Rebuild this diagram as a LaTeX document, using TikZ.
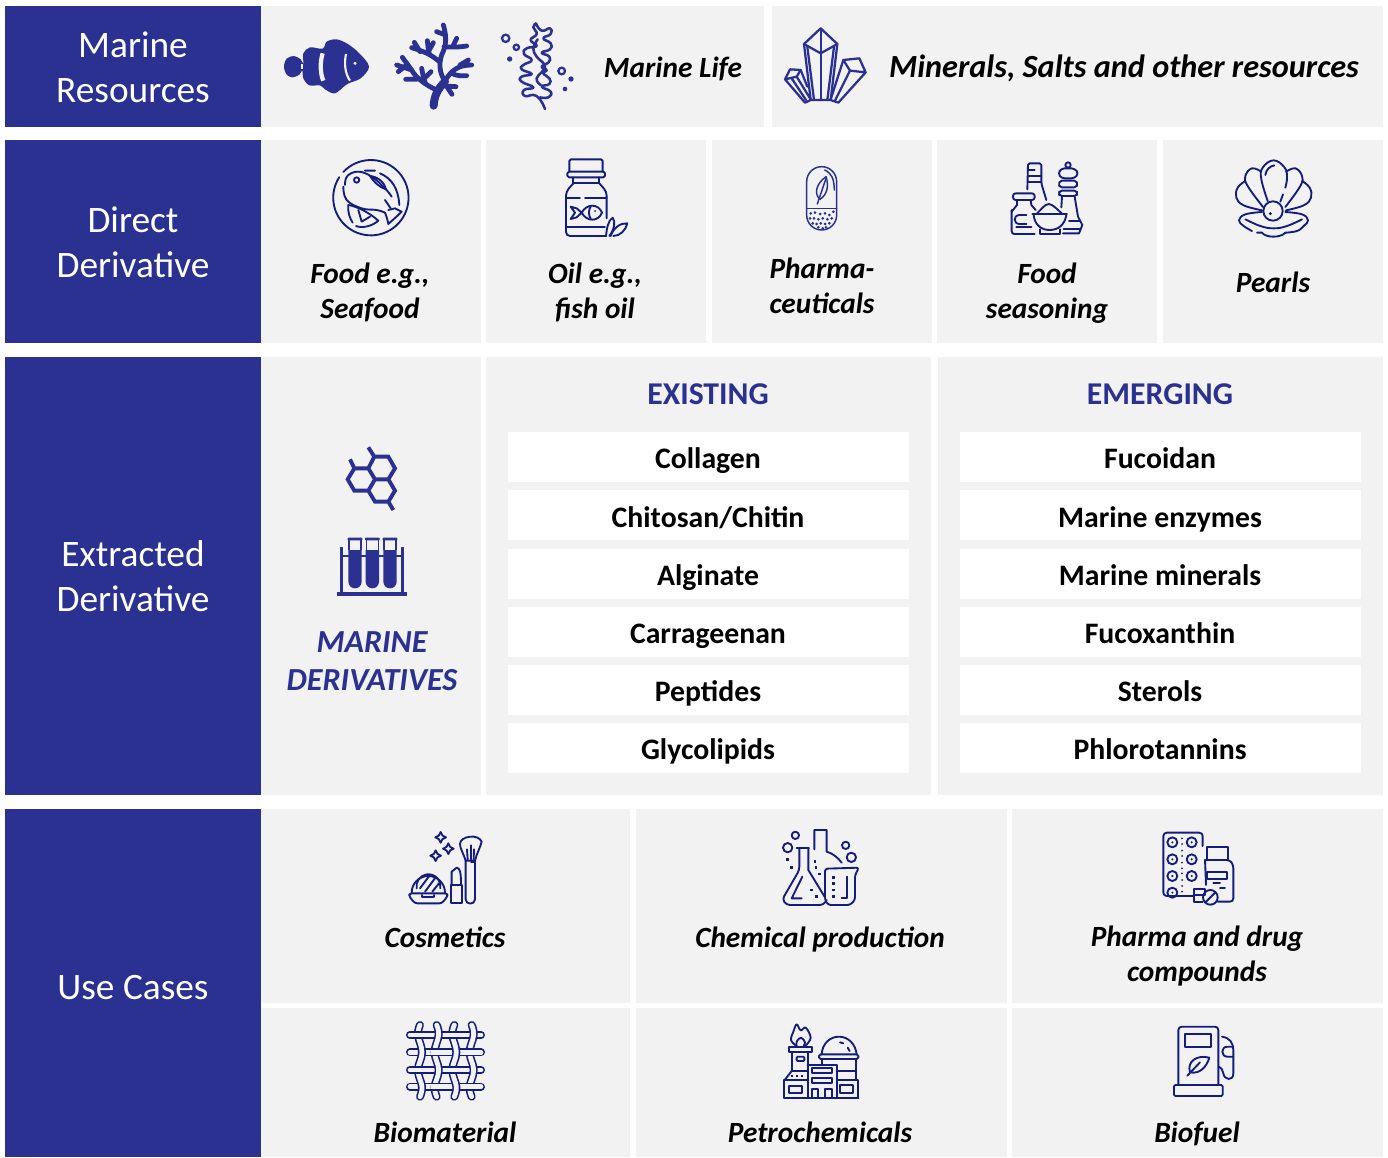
\documentclass[tikz,border=0pt]{standalone}
\usepackage{fontspec}
\setmainfont{Carlito}
\definecolor{band}{HTML}{2B3190}
\definecolor{ink}{HTML}{141C7C}
\definecolor{pane}{HTML}{F2F2F2}
\tikzset{
  zoomat/.style={shift={#1},x=0.25pt,y=-0.25pt},
  thinline/.style={draw=ink,line width=1.4pt,line cap=round,line join=round},
  bandline/.style={draw=band,line width=1.3pt,line cap=round,line join=round},
  headtext/.style={text=white,font=\fontsize{28}{33.5}\selectfont,align=center,inner sep=0pt},
  itemtext/.style={text=black,font=\fontsize{22}{26.5}\bfseries\itshape\selectfont,align=center,inner sep=0pt},
  boxtext/.style={text=black,font=\fontsize{22.3}{26}\bfseries\selectfont,inner sep=0pt,anchor=base},
  colhead/.style={text=band,font=\fontsize{23.8}{28}\bfseries\selectfont,inner sep=0pt,anchor=base},
  ribbon/.style={draw=ink,line width=1.2pt,double=pane,double distance=3.6pt},
}
\newcommand{\pn}[4]{\fill[pane] (#1,#2) rectangle (#3,#4);}
\newcommand{\bl}[4]{\fill[band] (#1,#2) rectangle (#3,#4);}
\newcommand{\wb}[4]{\fill[white] (#1,#2) rectangle (#3,#4);}
\begin{document}
\begin{tikzpicture}[x=0.75pt,y=-0.75pt]
\useasboundingbox (0,0) rectangle (1388,1157);
\fill[white] (0,0) rectangle (1388,1157);
% panels
\bl{5}{6}{261}{127}\bl{5}{140}{261}{343}\bl{5}{357}{261}{795}\bl{5}{809}{261}{1157}
\pn{261}{6}{764}{127}\pn{772}{6}{1383}{127}
\pn{261}{140}{481}{343}\pn{486}{140}{706}{343}\pn{712}{140}{932}{343}\pn{937}{140}{1157}{343}\pn{1163}{140}{1383}{343}
\pn{261}{357}{481}{795}\pn{486}{357}{931}{795}\pn{938}{357}{1383}{795}
\pn{261}{809}{630}{1003}\pn{636}{809}{1007}{1003}\pn{1012}{809}{1383}{1003}
\pn{261}{1008}{630}{1157}\pn{636}{1008}{1007}{1157}\pn{1012}{1008}{1383}{1157}
\foreach \t in {432,490,549,607,665,723}{
  \wb{508}{\t}{909}{\t+50}\wb{960}{\t}{1361}{\t+50}
}
% band labels
\node[headtext] (hres) at (133,67) {Marine\\Resources};
\node[headtext] (hdir) at (133,242) {Direct\\Derivative};
\node[headtext] (hext) at (133,576) {Extracted\\Derivative};
\node[headtext] (huse) at (133,988) {Use Cases};
% item labels
\node[itemtext,anchor=base] (tlife) at (673,77) {Marine Life};
\node[itemtext,anchor=base,font=\fontsize{24.2}{28}\bfseries\itshape\selectfont] (tmin) at (1124,77) {Minerals, Salts and other resources};
\node[itemtext] (tfood) at (370,292.5) {Food e.g.,\\Seafood};
\node[itemtext] (toil) at (595,292.5) {Oil e.g.,\\fish oil};
\node[itemtext] (tpha) at (822,286) {Pharma-\\ceuticals};
\node[itemtext] (tsea) at (1047,293) {Food\\seasoning};
\node[itemtext,anchor=base] (tpea) at (1273,292) {Pearls};
\node[itemtext,text=band,font=\fontsize{24.1}{28.5}\bfseries\itshape\selectfont] (tder) at (372,661) {MARINE\\DERIVATIVES};
\node[colhead] (hexi) at (708,404) {EXISTING};
\node[colhead] (heme) at (1160,404) {EMERGING};
\node[boxtext] (e1) at (708,468) {Collagen};
\node[boxtext] (e2) at (708,527) {Chitosan/Chitin};
\node[boxtext] (e3) at (708,585) {Alginate};
\node[boxtext] (e4) at (708,643) {Carrageenan};
\node[boxtext] (e5) at (708,701) {Peptides};
\node[boxtext] (e6) at (708,759) {Glycolipids};
\node[boxtext] (m1) at (1160,468) {Fucoidan};
\node[boxtext] (m2) at (1160,527) {Marine enzymes};
\node[boxtext] (m3) at (1160,585) {Marine minerals};
\node[boxtext] (m4) at (1160,643) {Fucoxanthin};
\node[boxtext] (m5) at (1160,701) {Sterols};
\node[boxtext] (m6) at (1160,759) {Phlorotannins};
\node[itemtext,anchor=base] (ucos) at (445,947) {Cosmetics};
\node[itemtext,anchor=base] (uche) at (820,947) {Chemical production};
\node[itemtext] (upha) at (1197,956) {Pharma and drug\\compounds};
\node[itemtext,anchor=base] (ubio) at (445,1142) {Biomaterial};
\node[itemtext,anchor=base] (upet) at (820,1142) {Petrochemicals};
\node[itemtext,anchor=base] (ufue) at (1197,1142) {Biofuel};

% ---------- marine life icons
\begin{scope}[zoomat={(270,10)}]
  % fish
  \fill[band] plot[smooth cycle,tension=0.55] coordinates {(42,170)(50,146)(72,138)(92,148)(100,160)(100,130)(120,112)(158,116)(170,95)(200,88)(235,103)(270,132)(297,170)(272,205)(232,222)(195,250)(165,238)(150,226)(118,226)(100,205)(97,182)(88,194)(68,202)(50,194)};
  \draw[pane,line width=3.2pt] (158,130) .. controls (150,155) and (150,190) .. (160,212);
  \draw[pane,line width=1.6pt] (228,132) .. controls (222,160) and (225,190) .. (240,212);
  \fill[pane] (255,160) circle (5);
  \fill[pane] (92,163) rectangle (100,178);
  % coral
  \draw[band,line width=6pt,line cap=round] (491,287) .. controls (493,255) and (505,235) .. (525,215);
  \draw[band,line width=3.6pt,line cap=round,line join=round]
    (525,215) .. controls (510,190) and (505,165) .. (515,135) .. controls (530,105) and (530,80) .. (520,45)
    (527,75) -- (500,65)
    (522,110) .. controls (545,112) and (565,112) .. (590,108)
    (548,110) -- (560,85)
    (525,212) .. controls (545,180) and (565,165) .. (605,165)
    (570,165) -- (595,150)
    (545,190) .. controls (560,198) and (575,198) .. (590,197)
    (508,155) .. controls (485,135) and (465,125) .. (425,113)
    (478,132) .. controls (474,120) and (474,105) .. (472,92)
    (475,125) -- (490,98)
    (450,125) -- (433,97)
    (500,240) .. controls (465,225) and (435,200) .. (425,180) -- (397,142)
    (425,180) -- (380,165)
    (412,163) -- (385,185)
    (440,208) -- (407,208)
    (467,222) .. controls (460,205) and (458,190) .. (455,175)
    (463,205) -- (483,185)
    (525,228) -- (558,230)
    (532,232) -- (546,253);
  % seaweed
  \draw[draw=band,line width=1.9pt,line cap=round,line join=round]
    plot[smooth,tension=0.9] coordinates {(798,40)(790,52)(800,72)(782,90)(800,108)(770,115)(762,132)(785,150)(760,165)(755,178)(785,192)(755,200)(755,215)(790,232)(762,240)(765,258)(800,258)(825,297)}
    plot[smooth,tension=0.9] coordinates {(798,40)(815,62)(840,55)(842,72)(820,85)(842,100)(840,118)(815,128)(838,140)(835,158)(815,170)(830,180)(820,190)(838,205)(838,222)(815,230)(842,245)(835,262)(810,262)}
    plot[smooth,tension=0.7] coordinates {(812,225)(800,205)(825,170)(800,140)(790,115)(803,88)};
  \foreach \x/\y/\r in {707/85/11,739/112/8,875/183/10}{\draw[band,line width=1.7pt] (\x,\y) circle (\r);}
  \foreach \x/\y/\r in {719/147/8,903/207/8,885/237/7}{\fill[band] (\x,\y) circle (\r);}
\end{scope}
% crystals
\begin{scope}[zoomat={(770,10)},every path/.style={bandline,line width=1.7pt}]
  \draw (152,55) -- (102,102) -- (122,270) -- (182,270) -- (202,102) -- cycle;
  \draw (102,102) -- (152,130) -- (202,102);
  \draw (152,55) -- (152,270);
  \draw (112,110) -- (132,270) (192,110) -- (172,270);
  \draw (122,270) -- (105,278) -- (45,208) -- (60,178) -- (92,180) -- (80,200) -- (45,208);
  \draw (80,200) -- (122,268) (92,180) -- (112,230) (65,205) -- (108,270);
  \draw (182,270) -- (205,278) -- (287,187) -- (268,145) -- (220,150) -- (240,182) -- (287,187);
  \draw (220,150) -- (183,265) (240,182) -- (195,272);
\end{scope}

% ---------- direct derivative icons
\begin{scope}[zoomat={(320,150)},every path/.style={thinline}]
  % plate with fish
  \draw (70,66) arc[start angle=223,delta angle=350,radius=113];
  \draw plot[smooth,tension=0.7] coordinates {(75,105)(82,78)(115,65)(155,80)(195,115)(215,140)};
  \draw plot[smooth,tension=0.7] coordinates {(70,110)(80,150)(125,175)(170,180)(195,188)};
  \draw (135,62) -- (165,62) (180,70) .. controls (215,85) and (235,115) .. (238,165);
  \draw (195,150) -- (212,175);
  \draw (195,188) .. controls (200,200) and (203,212) .. (205,222) .. controls (212,215) and (225,205) .. (245,185) -- (225,175) -- (205,180);
  \draw (110,90) circle (8);
  \draw (150,78) .. controls (175,80) and (195,100) .. (198,118) .. controls (180,112) and (165,100) .. (150,78);
  \draw (85,165) .. controls (83,190) and (90,205) .. (98,218);
  \draw (85,165) .. controls (115,170) and (150,190) .. (175,212) .. controls (155,230) and (125,235) .. (108,228);
  \draw (115,180) -- (125,215) (125,215) -- (150,200);
  % bottle
  \draw[rounded corners=1.2pt] (748,65) -- (748,28) -- (848,28) -- (848,65);
  \draw[rounded corners=1.2pt] (742,65) rectangle (855,82);
  \draw (760,82) -- (760,100) -- (838,100) -- (838,82);
  \draw[rounded corners=3pt] (760,100) -- (738,125) -- (738,258) -- (858,258);
  \draw[rounded corners=3pt] (838,100) -- (860,125) -- (860,205);
  \draw (738,145) -- (780,145) (795,145) -- (860,145) (738,232) -- (855,232);
  \draw (785,188) .. controls (800,160) and (835,160) .. (846,188) .. controls (835,216) and (800,216) .. (785,188) -- (770,175) -- (752,170) -- (765,188) -- (752,207) -- (770,202) -- cycle;
  \draw (812,170) .. controls (805,180) and (805,195) .. (812,206);
  \fill[ink,draw=none] (825,183) circle (3);
  \draw (858,258) .. controls (860,235) and (865,210) .. (878,203) .. controls (888,215) and (882,240) .. (868,258);
  \draw (872,258) .. controls (880,235) and (900,218) .. (922,220) .. controls (918,240) and (900,258) .. (880,258);
\end{scope}
\begin{scope}[zoomat={(790,150)},every path/.style={bandline,line width=1.1pt}]
  % capsule
  \draw (50,95) arc[start angle=180,end angle=360,radius=45] -- (140,195) arc[start angle=0,end angle=180,radius=45] -- cycle;
  \draw (50,175) -- (140,175);
  \draw (104,60) .. controls (125,70) and (132,85) .. (133,120);
  \draw (108,80) .. controls (80,100) and (70,130) .. (90,148) .. controls (110,135) and (118,110) .. (108,80);
  \draw (108,85) -- (82,162);
  \foreach \x/\y in {62/190,75/188,90/192,105/190,118/195,130/185,60/205,72/205,85/208,98/205,112/208,125/205,68/220,80/222,92/220,105/222,118/220,85/232,98/235,108/232}{
    \fill[band,draw=none] (\x,\y) circle (4.5);}
\end{scope}
\begin{scope}[zoomat={(793,150)},every path/.style={thinline}]
  % seasoning: sauce bottle
  \draw[rounded corners=1.2pt] (703,118) -- (705,40) -- (745,40) -- (745,100) -- (760,150);
  \draw (705,60) -- (725,60) (705,78) -- (745,78) (705,97) -- (745,97);
  % jar
  \draw[rounded corners=2pt] (660,130) rectangle (725,150);
  \draw (672,150) -- (672,165) -- (656,185);
  \draw (713,150) -- (715,165) -- (728,180);
  \draw[rounded corners=2pt] (656,180) -- (656,252) -- (725,252);
  \draw (700,195) -- (680,195) .. controls (660,195) and (660,222) .. (680,222) -- (700,222);
  \draw (670,232) -- (715,232);
  % bowl
  \draw (718,193) -- (822,193);
  \draw (722,195) .. controls (725,225) and (745,240) .. (770,240) .. controls (795,240) and (815,225) .. (820,195);
  \draw (740,238) -- (740,252) -- (800,252) -- (800,238);
  \draw (732,190) .. controls (745,178) and (755,163) .. (767,162) .. controls (780,163) and (792,178) .. (806,190);
  % mill
  \draw (825,45) circle (8);
  \draw[rounded corners=2.5pt] (805,55) -- (845,55) -- (857,70) -- (845,85) -- (805,85) -- (795,70) -- cycle;
  \draw[rounded corners=1.5pt] (800,92) -- (850,92) -- (854,103) -- (850,112) -- (800,112) -- (797,103) -- cycle;
  \draw[rounded corners=1.5pt] (800,122) -- (850,122) -- (854,130) -- (850,138) -- (800,138) -- (797,130) -- cycle;
  \draw (807,140) -- (805,172) (845,140) -- (855,200) -- (868,225) -- (858,250) -- (810,250);
  \draw (828,212) -- (860,212) (812,236) -- (860,236);
\end{scope}
\begin{scope}[zoomat={(797,151)},every path/.style={thinline}]
  % shell
  \draw plot[smooth,tension=0.7] coordinates {(1412,150)(1393,85)(1397,50)(1430,28)(1463,50)(1470,80)(1465,110)};
  \draw (1458,130) -- (1450,152);
  \draw (1405,72) .. controls (1407,55) and (1420,45) .. (1432,43);
  \draw plot[smooth,tension=0.7] coordinates {(1393,62)(1365,52)(1345,75)(1352,105)(1398,168)};
  \draw plot[smooth,tension=0.7] coordinates {(1467,62)(1495,52)(1515,75)(1510,105)(1465,168)};
  \draw plot[smooth,tension=0.7] coordinates {(1345,90)(1322,110)(1318,140)(1340,163)(1395,178)};
  \draw plot[smooth,tension=0.7] coordinates {(1515,90)(1538,110)(1542,140)(1520,163)(1467,178)};
  \draw (1428,180) circle (29);
  \fill[ink,draw=none] (1420,188) circle (5);
  \draw plot[smooth,tension=0.7] coordinates {(1395,183)(1345,190)(1326,208)(1340,225)(1365,240)};
  \draw plot[smooth,tension=0.7] coordinates {(1465,183)(1515,190)(1533,208)(1520,225)(1500,240)(1465,245)};
  \draw plot[smooth,tension=0.7] coordinates {(1345,205)(1390,225)(1430,232)(1470,225)(1515,205)};
  \draw (1380,245) -- (1395,245) .. controls (1405,260) and (1450,262) .. (1465,245);
\end{scope}

% ---------- molecule & test tubes
\begin{scope}[zoomat={(325,440)}]
  \draw[band,line width=2.9pt,line join=miter,line cap=butt]
    (148,50) -- (190,50) -- (210,85) -- (190,118) -- (150,118) -- (130,85) -- cycle
    (130,85) -- (88,85) -- (68,118) -- (88,152) -- (130,152) -- (150,118)
    (190,118) -- (210,152) -- (190,185) -- (150,185) -- (130,152)
    (148,50) -- (130,22) (88,85) -- (75,58) (190,185) -- (205,210);
  \fill[band] (37,455) rectangle (245,469);
  \draw[band,line width=2.2pt] (50,322) -- (50,455) (232,322) -- (232,455);
  \draw[band,line width=1.5pt] (50,347) -- (232,347);
  \foreach \c in {90,142,195}{
    \fill[band,rounded corners=0.5pt] (\c-22,293) rectangle (\c+22,301);
    \draw[band,line width=1.2pt] (\c-18,301) -- (\c-18,330) (\c+18,301) -- (\c+18,330);
    \fill[band] (\c-20,330) -- (\c+20,330) -- (\c+20,425) arc[start angle=0,end angle=180,radius=20] -- cycle;
  }
\end{scope}

% ---------- use cases
\begin{scope}[zoomat={(395,820)},every path/.style={thinline}]
  % sparkles
  \foreach \x/\y in {137/52,160/86,122/107}{
    \draw (\x,\y-16) .. controls (\x+3,\y-6) and (\x+6,\y-3) .. (\x+16,\y) .. controls (\x+6,\y+3) and (\x+3,\y+6) .. (\x,\y+16) .. controls (\x-3,\y+6) and (\x-6,\y+3) .. (\x-16,\y) .. controls (\x-6,\y-3) and (\x-3,\y-6) .. (\x,\y-16) -- cycle;
  }
  % compact
  \draw (50,218) arc[start angle=180,end angle=360,radius=50];
  \draw (65,205) arc[start angle=170,end angle=370,radius=36];
  \draw (75,205) -- (105,165) (90,215) -- (122,172) (112,215) -- (132,190);
  \draw[rounded corners=1.8pt] (43,220) -- (157,220) -- (157,230) -- (140,250) -- (60,250) -- (43,230) -- cycle;
  \draw (82,225) -- (82,232) -- (118,232) -- (118,225);
  % lipstick
  \draw (168,195) rectangle (200,250);
  \draw (170,195) -- (170,155) -- (185,143) .. controls (195,145) and (198,155) .. (198,195);
  % brush
  \draw (212,122) -- (212,238) .. controls (212,255) and (240,255) .. (240,238) -- (240,122) -- cycle;
  \draw (212,122) .. controls (205,100) and (195,85) .. (195,72) .. controls (195,48) and (250,40) .. (260,65) .. controls (255,85) and (245,100) .. (240,122);
  \draw (218,118) -- (216,88) (228,118) -- (228,76) (236,118) -- (237,88);
  \draw (228,125) -- (240,125);
  % chem flask
  \draw[rounded corners=2.5pt] (1213,85) -- (1213,150) -- (1162,238) -- (1175,255) -- (1285,255) -- (1295,240);
  \draw (1205,85) -- (1242,85);
  \draw (1240,85) -- (1240,150) -- (1290,232);
  \draw (1222,170) -- (1190,235) -- (1220,235);
  \draw (1258,88) -- (1258,30) -- (1295,30) -- (1295,95) .. controls (1315,100) and (1330,115) .. (1340,128);
  \draw[rounded corners=2pt] (1290,146) -- (1392,143) -- (1380,165) -- (1380,240) -- (1365,255) -- (1300,255) -- (1290,240) -- cycle;
  \draw (1355,170) -- (1355,235) -- (1340,235);
  \draw (1178,83) circle (14) (1201,46) circle (11) (1352,76) circle (11) (1369,112) circle (14);
  \foreach \x/\y in {1177/118,1190/143,1260/125,1263/143,1274/162,1250/210,1264/230,1315/172,1315/190,1315/210,1315/230}{
    \fill[ink,draw=none] (\x-4,\y-4) rectangle (\x+4,\y+4);}
\end{scope}
\begin{scope}[zoomat={(1150,820)},every path/.style={thinline}]
  \draw[rounded corners=2.5pt] (128,228) -- (40,228) -- (40,38) -- (158,38) -- (158,78);
  \foreach \x/\y in {67/67,125/67,67/118,125/118,67/168,125/168,67/218}{
    \draw (\x,\y) circle (15);
    \fill[ink,draw=none] (\x,\y) circle (3.5);}
  \foreach \y in {55,72,92,108,128,145,160,180,198,215}{
    \fill[ink,draw=none] (96,\y) circle (3);}
  \draw (172,118) -- (172,82) -- (235,82) -- (235,118);
  \draw[rounded corners=2.5pt] (165,120) -- (240,120) -- (250,135) -- (250,245) -- (203,245);
  \draw (165,120) -- (168,195);
  \draw (172,155) rectangle (230,178);
  \draw (190,190) -- (210,190) (210,205) -- (225,205);
  \draw (132,207) -- (165,207) -- (165,225) -- (132,225) -- cycle (132,225) -- (132,245) -- (158,245);
  \draw (181,232) circle (22) (168,245) -- (195,218);
\end{scope}
% Biomaterial
\begin{scope}[zoomat={(395,1015)}]
  \foreach \y in {60,112,165,215}{
    \draw[ribbon,line cap=round] (45,\y) -- (258,\y);
  }
  \foreach \a/\b in {75/1,125/-1,178/1,230/-1}{
    \draw[ribbon,line cap=round] plot[smooth,tension=0.7] coordinates {(\a,30)(\a-6*\b,60)(\a+6*\b,112)(\a-6*\b,165)(\a+6*\b,215)(\a,245)};
  }
  \foreach \x/\y in {69/60,172/60,131/112,224/112,69/165,172/165,131/215,224/215}{
    \draw[ribbon,line cap=butt] (\x-24,\y) -- (\x+24,\y);
  }
\end{scope}
\begin{scope}[zoomat={(395,1015)},every path/.style={thinline}]
  % petrochem
  \draw plot[smooth,tension=0.6] coordinates {(1203,92)(1188,75)(1195,50)(1205,28)(1217,46)(1232,38)(1247,68)(1232,92)};
  \draw plot[smooth,tension=0.7] coordinates {(1205,92)(1205,80)(1218,68)(1230,82)(1226,92)};
  \draw (1183,95) rectangle (1250,110);
  \draw (1190,110) -- (1190,168) (1240,110) -- (1240,150);
  \draw[rounded corners=0.8pt] (1205,125) rectangle (1228,138);
  \draw (1190,168) -- (1238,168) (1190,168) -- (1169,195);
  \foreach \x in {1190,1206,1222}{\fill[ink,draw=none] (\x-3,180) rectangle (\x+3,186);}
  \draw (1168,195) rectangle (1238,248);
  \draw (1182,212) rectangle (1222,235);
  \draw (1238,150) -- (1325,150) -- (1325,248) (1238,150) -- (1238,248);
  \draw (1250,160) rectangle (1310,175) (1250,190) rectangle (1310,203);
  \draw (1250,248) -- (1250,222) -- (1270,222) -- (1270,248) (1290,248) -- (1290,222) -- (1310,222) -- (1310,248);
  \draw (1168,248) -- (1390,248);
  \draw (1325,195) rectangle (1390,248);
  \draw (1335,210) rectangle (1375,235);
  \draw (1280,118) .. controls (1282,85) and (1305,65) .. (1332,65) .. controls (1360,65) and (1382,88) .. (1385,118);
  \draw[rounded corners=1.2pt] (1272,118) rectangle (1390,132);
  \draw (1282,132) -- (1282,150) (1382,132) -- (1382,195);
  \draw (1325,168) -- (1382,168);
  \draw (1335,82) -- (1345,85) (1358,98) -- (1364,108);
\end{scope}
\begin{scope}[zoomat={(1150,1015)},every path/.style={thinline}]
  \draw[rounded corners=2.5pt] (85,210) -- (85,35) -- (205,35) -- (205,210);
  \draw (106,58) rectangle (183,97);
  \draw[rounded corners=1pt] (72,210) rectangle (218,243);
  \draw (178,128) .. controls (140,118) and (110,140) .. (120,172) .. controls (150,178) and (170,155) .. (178,128);
  \draw (112,182) -- (150,142);
  \draw (216,65) .. controls (240,68) and (250,85) .. (250,105) -- (250,175) .. controls (250,200) and (222,195) .. (220,175) .. controls (220,165) and (212,158) .. (207,155);
  \draw (250,95) -- (232,95) .. controls (212,95) and (212,125) .. (232,125) -- (250,125);
\end{scope}
\end{tikzpicture}
\end{document}
